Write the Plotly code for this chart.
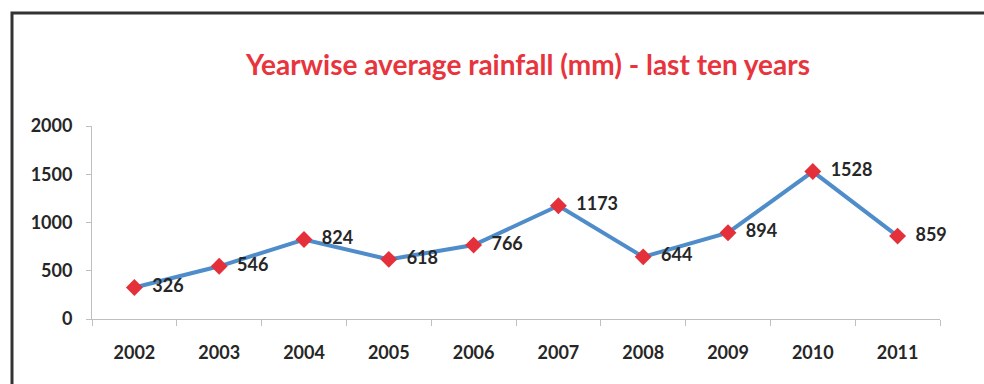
import plotly.graph_objects as go

years = ["2002", "2003", "2004", "2005", "2006", "2007", "2008", "2009", "2010", "2011"]
rainfall = [326, 546, 824, 618, 766, 1173, 644, 894, 1528, 859]
y_ticks = [0, 500, 1000, 1500, 2000]
title_text = "Yearwise average rainfall (mm) - last ten years"

W, H = 984, 384
L, R, T, B = 92, 940, 126, 319  # plot area in pixels


def px(x):
    return (x - L) / (R - L)


def py(y):
    return (B - y) / (B - T)


fig = go.Figure()
fig.add_trace(go.Scatter(
    x=years, y=rainfall, mode="lines+markers+text",
    line=dict(color="#4f8cca", width=4),
    marker=dict(symbol="diamond", size=13, color="#e3303a"),
    text=[f"  {v}" for v in rainfall], textposition="middle right",
    textfont=dict(family="Lato", size=18, color="#262626", weight="bold"),
    cliponaxis=False, showlegend=False,
))

fig.update_layout(
    width=W, height=H, margin=dict(l=L, r=W - R, t=T, b=H - B, autoexpand=False),
    paper_bgcolor="white", plot_bgcolor="white",
    title=dict(text=title_text, x=528 / W, xanchor="center", y=1 - 65 / H, yanchor="middle",
               xref="container", yref="container",
               font=dict(family="Lato", size=28, color="#e8343c", weight="bold")),
    xaxis=dict(type="category", tickson="boundaries", automargin=False,
               range=[-0.5, len(years) - 0.5],
               ticks="outside", ticklen=6, tickcolor="#bfbfbf", showline=True,
               linecolor="#bfbfbf", linewidth=1, showgrid=False,
               tickfont=dict(family="Lato", size=18, color="#262626", weight="bold"),
               ticklabelstandoff=17),
    yaxis=dict(range=[0, 2000], tickvals=y_ticks, automargin=False,
               ticks="outside", ticklen=5, tickcolor="#bfbfbf", showline=True,
               linecolor="#bfbfbf", linewidth=1, showgrid=False, zeroline=False,
               tickfont=dict(family="Lato", size=18, color="#262626", weight="bold"),
               ticklabelstandoff=10),
)

fig.add_shape(type="path", xref="paper", yref="paper",
              path=f"M {px(12)} {py(400)} L {px(12)} {py(13)} L {px(990)} {py(13)}",
              line=dict(color="#333333", width=3))

fig.write_html("out.html")
